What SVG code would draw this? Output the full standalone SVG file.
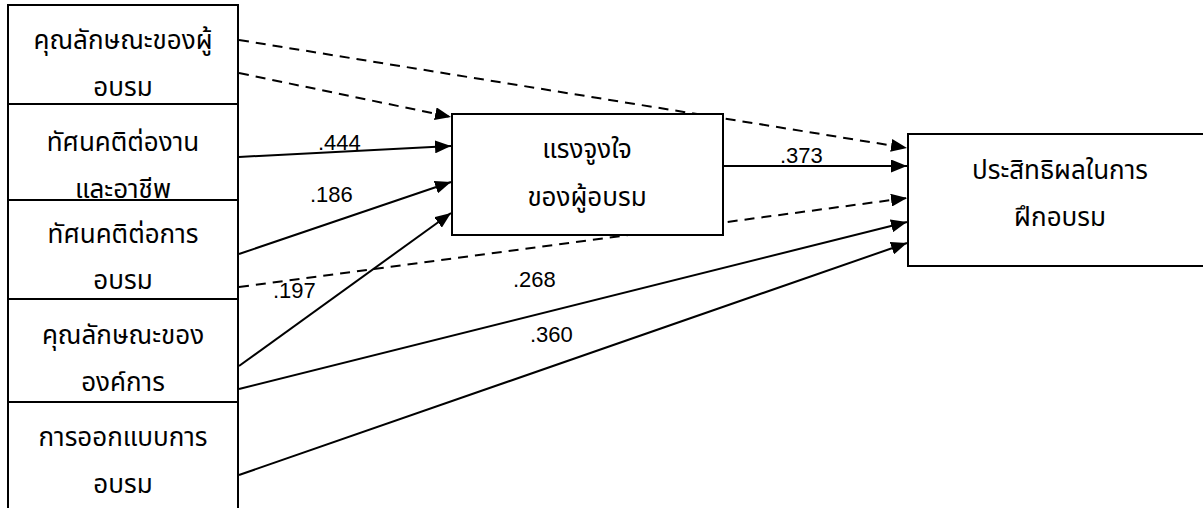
<svg xmlns="http://www.w3.org/2000/svg" width="1203" height="508" viewBox="0 0 1203 508">
<style>
.box{fill:#fff;stroke:#000;stroke-width:2}
.t{font-family:"Noto Sans Thai","Tahoma","Noto Sans","DejaVu Sans",sans-serif;font-size:26px;fill:#000;text-anchor:middle}
.n{font-family:"Liberation Sans",Arial,sans-serif;font-size:22px;fill:#000}
.c{fill:none;stroke:#000;stroke-width:2;marker-end:url(#ah)}
.d{stroke-dasharray:10,7}
</style>
<defs>
<marker id="ah" markerUnits="userSpaceOnUse" markerWidth="17" markerHeight="13" viewBox="0 0 17 13" refX="16" refY="6.5" orient="auto">
<path d="M0,0 L16,6.5 L0,13 z" fill="#000"/>
</marker>
</defs>
<g id="connectors">
<line class="c d" x1="239" y1="40" x2="907" y2="148"/>
<line class="c d" x1="239" y1="73" x2="451" y2="117"/>
<line class="c" x1="239" y1="157" x2="451" y2="146"/>
<line class="c" x1="239" y1="254" x2="451" y2="182"/>
<line class="c d" x1="239" y1="287" x2="907" y2="198"/>
<line class="c" x1="239" y1="366" x2="451" y2="213"/>
<line class="c" x1="239" y1="389" x2="907" y2="222"/>
<line class="c" x1="239" y1="475" x2="907" y2="243"/>
<line class="c" x1="723" y1="166" x2="907" y2="166"/>
<text class="n" x="318" y="150">.444</text>
<text class="n" x="310" y="202">.186</text>
<text class="n" x="273" y="298">.197</text>
<text class="n" x="780" y="163">.373</text>
<text class="n" x="513" y="287">.268</text>
<text class="n" x="530" y="342">.360</text>
</g>
<g id="n1"><rect class="box" x="8" y="5" width="230" height="99"/><text class="t" x="123" y="49">คุณลักษณะของผู้</text><text class="t" x="123" y="96">อบรม</text></g>
<g id="n2"><rect class="box" x="8" y="104" width="230" height="96"/><text class="t" x="123" y="151">ทัศนคติต่องาน</text><text class="t" x="123" y="198">และอาชีพ</text></g>
<g id="n3"><rect class="box" x="8" y="200" width="230" height="99"/><text class="t" x="123" y="243">ทัศนคติต่อการ</text><text class="t" x="123" y="289">อบรม</text></g>
<g id="n4"><rect class="box" x="8" y="299" width="230" height="103"/><text class="t" x="123" y="344">คุณลักษณะของ</text><text class="t" x="123" y="391">องค์การ</text></g>
<g id="n5"><rect class="box" x="8" y="402" width="230" height="115"/><text class="t" x="123" y="446">การออกแบบการ</text><text class="t" x="123" y="493">อบรม</text></g>
<g id="m"><rect class="box" x="452" y="114" width="271" height="121"/><text class="t" x="587" y="158">แรงจูงใจ</text><text class="t" x="587" y="206">ของผู้อบรม</text></g>
<g id="r"><rect class="box" x="908" y="134" width="310" height="132"/><text class="t" x="1060" y="179">ประสิทธิผลในการ</text><text class="t" x="1060" y="226">ฝึกอบรม</text></g>
</svg>
